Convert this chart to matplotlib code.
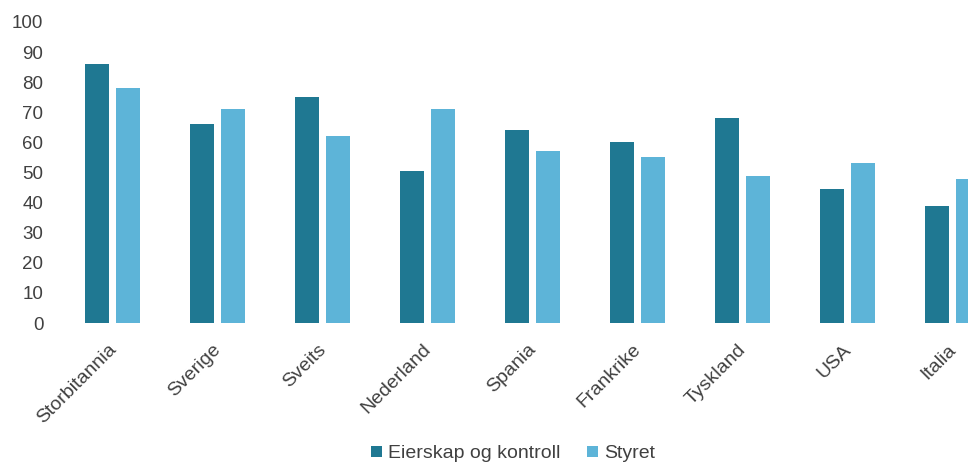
import matplotlib
matplotlib.use("Agg")
from matplotlib import pyplot as plt
from matplotlib.transforms import ScaledTranslation
import numpy as np

# Land og andeler (prosent)
land = ["Storbitannia", "Sverige", "Sveits", "Nederland", "Spania",
        "Frankrike", "Tyskland", "USA", "Italia"]
eierskap = [86, 66, 75, 50.5, 64, 60, 68, 44.5, 39]
styret = [78, 71, 62, 71, 57, 55, 49, 53, 48]

farge_eierskap = "#1f7892"
farge_styret = "#5db4d8"
tekstfarge = "#404040"

plt.rcParams["font.family"] = ["Liberation Sans", "DejaVu Sans"]

fig = plt.figure(figsize=(9.68, 4.68), dpi=100)
# aksen går litt utenfor figuren til høyre, siste stolpe blir kuttet
ax = fig.add_axes([60 / 968, 145 / 468, 945 / 968, 301 / 468])

x = np.arange(len(land))
bredde = 0.23
ax.bar(x - 0.145, eierskap, bredde, color=farge_eierskap, label="Eierskap og kontroll")
ax.bar(x + 0.145, styret, bredde, color=farge_styret, label="Styret")

ax.set_xlim(-0.5, len(land) - 0.5)
ax.set_ylim(0, 100)
ax.set_yticks(np.arange(0, 101, 10))
ax.set_xticks(x)
ax.set_xticklabels(land, rotation=45, ha="right", va="top", rotation_mode="anchor")
ax.tick_params(axis="y", length=0, labelsize=13.5, labelcolor=tekstfarge, pad=12)
ax.tick_params(axis="x", length=0, labelsize=14, labelcolor=tekstfarge, pad=13)
# flytt landnavnene litt mot venstre
forskyv = ScaledTranslation(-5 / 100, 0, fig.dpi_scale_trans)
for lbl in ax.get_xticklabels():
    lbl.set_transform(lbl.get_transform() + forskyv)
for s in ax.spines.values():
    s.set_visible(False)

fig.legend(loc="center", bbox_to_anchor=(513 / 968, 14 / 468), ncol=2, frameon=False,
           fontsize=14, handlelength=0.55, handleheight=0.55, handletextpad=0.3,
           columnspacing=1.4, labelcolor=tekstfarge)

fig.savefig("out.png", dpi=100)
